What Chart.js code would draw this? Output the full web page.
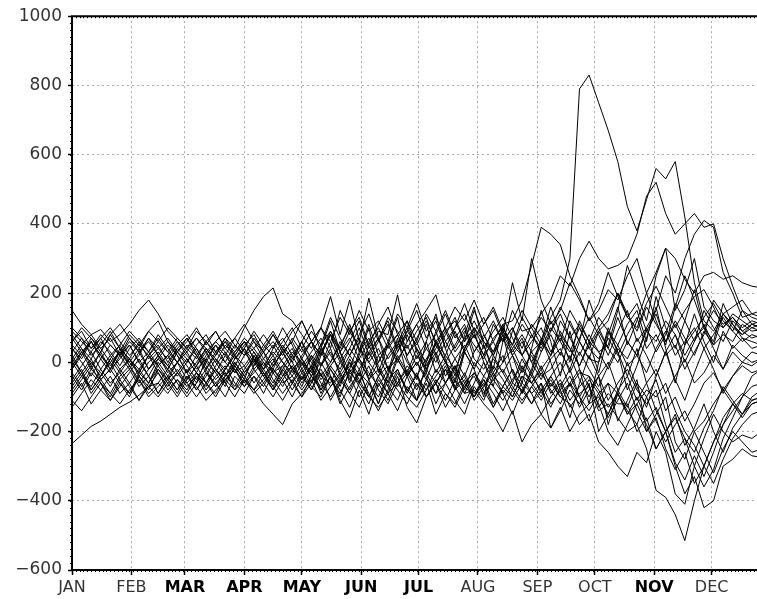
<!DOCTYPE html>
<html lang="en">
<head>
<meta charset="UTF-8">
<title>Daily anomaly ensemble</title>
<script src="https://cdn.jsdelivr.net/npm/chart.js@4"></script>
<style>
  * { margin: 0; padding: 0; box-sizing: border-box; }
  html, body { background: #fff; overflow: hidden; }
  .wrap { width: 757px; height: 599px; overflow: hidden; position: relative; }
  canvas { display: block; }
</style>
</head>
<body>
<div class="wrap"><canvas id="chart" width="771" height="599"></canvas></div>
<script>
// sample days (day of year, 0 = 1 Jan), one value every 5 days
const days = [0, 5, 10, 15, 20, 25, 30, 35, 40, 45, 50, 55,
  60, 65, 70, 75, 80, 85, 90, 95, 100, 105, 110, 115,
  120, 125, 130, 135, 140, 145, 150, 155, 160, 165, 170, 175,
  180, 185, 190, 195, 200, 205, 210, 215, 220, 225, 230, 235,
  240, 245, 250, 255, 260, 265, 270, 275, 280, 285, 290, 295,
  300, 305, 310, 315, 320, 325, 330, 335, 340, 345, 350, 355,
  360];

const monthDays = [0, 31, 59, 90, 120, 151, 181, 212, 243, 273, 304, 334];
const monthLabels = ['JAN', 'FEB', 'MAR', 'APR', 'MAY', 'JUN', 'JUL', 'AUG', 'SEP', 'OCT', 'NOV', 'DEC'];
const darkMonths = ['MAR', 'APR', 'MAY', 'JUN', 'JUL', 'NOV'];
const yTicks = [-600, -400, -200, 0, 200, 400, 600, 800, 1000];

// one array per member
const s01 = [40, 10, 60, 20, -10, 30, 0, 40, -20, 10, 50, 20,
  -30, 0, 40, 10, -20, 20, 60, 30, -10, 30, 0, -40,
  10, 60, 20, 90, 40, 110, 30, 70, 0, 50, 80, 20,
  60, -10, 40, 90, 30, 70, 120, 60, 30, 90, 40, 80,
  30, 60, 130, 180, 300, 790, 830, 750, 670, 580, 450, 380,
  470, 560, 530, 580, 420, 230, 120, 90, 140, 110, 80, 100,
  90];
const s02 = [-20, 30, 0, -40, 10, 50, 0, -30, 20, -10, -50, 0,
  30, -20, 10, 50, 0, -30, 20, 60, 10, -20, 40, 0,
  -50, 20, -10, 60, 0, 40, 100, 20, 70, -20, 30, 80,
  10, 60, -30, 20, 90, 30, 80, 20, 110, 60, 150, 90,
  100, 140, 180, 250, 220, 300, 350, 300, 270, 280, 300, 370,
  480, 520, 430, 370, 400, 430, 390, 400, 300, 220, 150, 110,
  120];
const s03 = [60, 90, 40, 70, 20, 50, 90, 60, 10, 40, 70, 30,
  0, 50, 80, 30, 60, 10, 40, 90, 50, 20, 60, 100,
  40, 90, 50, 130, 70, 20, 80, 140, 60, 110, 30, 90,
  150, 70, 120, 40, 100, 170, 90, 130, 60, 110, 120, 180,
  280, 390, 370, 340, 250, 190, 120, 150, 210, 180, 250, 300,
  200, 260, 330, 300, 240, 200, 250, 260, 240, 250, 230, 220,
  215];
const s04 = [-60, -20, -80, -40, 0, -50, -90, -30, -60, 0, -40, -80,
  -20, -60, 10, -30, -70, -10, -50, 20, -30, -80, -20, -60,
  0, -40, 30, -20, -70, 10, -40, 50, -10, -60, 20, -30,
  40, -20, 60, 0, -50, 30, -20, 50, -30, 20, -60, 10,
  -40, 30, 80, 20, 120, 60, 10, 90, 40, 130, 60, 20,
  100, 150, 250, 200, 300, 370, 410, 390, 260, 200, 130, 140,
  130];
const s05 = [100, 70, 40, 80, 50, 20, 60, 30, 70, 40, 10, 50,
  80, 40, 0, 50, 20, 70, 30, -10, 40, 80, 30, 60,
  120, 60, 100, 40, 150, 90, 130, 50, 110, 160, 80, 120,
  60, 140, 90, 150, 80, 40, 100, 60, 20, 80, 30, 70,
  0, 60, 20, 90, 40, -10, 60, 30, 50, 150, 280, 200,
  120, 250, 330, 150, 210, 300, 160, 120, 100, 130, 90, 110,
  100];
const s06 = [-40, -80, -30, -60, -100, -50, -20, -70, -40, -90, -50, -20,
  -60, -30, -80, -40, -10, -60, -90, -40, -70, -20, -50, -100,
  -40, -80, -30, -110, -60, -20, -70, -120, -50, -90, -30, -80,
  -110, -50, -90, -20, -70, -40, -100, -60, -130, -80, -110, -60,
  -90, -150, -100, -60, -130, -90, -70, -140, -120, -160, -200, -180,
  -250, -370, -390, -440, -515, -400, -300, -230, -160, -120, -150, -100,
  -80];
const s07 = [20, -30, 10, -50, -20, 30, -10, -60, -20, 20, -30, 0,
  -50, -10, 30, -20, -60, 0, -40, 10, -30, -70, -20, 20,
  -30, -80, -10, 40, -40, 0, -60, 30, -20, -70, 10, -40,
  0, -50, 20, -60, -10, -90, -30, -70, -10, -50, -100, -40,
  -60, -20, -90, -50, -110, -70, -40, -130, -90, -120, -120, -200,
  -160, -250, -200, -300, -380, -330, -420, -400, -300, -280, -250, -270,
  -275];
const s08 = [-100, -60, -120, -80, -40, -90, -60, -110, -70, -30, -80, -50,
  -90, -40, -70, -20, -60, -100, -50, -80, -30, -70, -110, -60,
  -20, -70, -100, -40, -80, -130, -60, -100, -40, -90, -140, -70,
  -110, -60, -150, -90, -130, -70, -100, -50, -90, -140, -80, -120,
  -70, -110, -60, -100, -120, -180, -150, -230, -260, -300, -330, -260,
  -290, -200, -260, -380, -410, -300, -220, -150, -200, -230, -210, -220,
  -200];
const s09 = [0, 40, -10, 30, -20, 10, 50, 0, -40, 10, -20, 30,
  -10, -50, 0, -30, 20, -20, -60, -10, 30, -30, -70, -20,
  10, -40, -80, -20, -60, 0, -50, -100, -40, -10, -70, -30,
  -80, -20, -60, -110, -50, -90, -80, -120, -150, -200, -140, -230,
  -180, -150, -190, -130, -200, -150, -120, -100, -150, -80, -40, -110,
  -60, -20, -90, -40, 10, -60, -30, 20, -20, 30, 0, -10,
  10];
const s10 = [-235, -210, -185, -170, -150, -130, -115, -95, -70, -60, -90, -50,
  -80, -30, -60, -100, -50, -20, -70, -40, -90, -30, -10, -60,
  -100, -40, -70, -10, -50, -90, -30, -60, -120, -50, -20, -80,
  -40, -100, -60, -20, -80, -50, -110, -70, -30, -90, -50, -10,
  -60, -100, -40, 0, -70, -30, -40, -80, -130, -90, -150, -120,
  -180, -250, -200, -290, -340, -270, -330, -260, -180, -140, -100, -70,
  -60];
const s11 = [150, 110, 80, 95, 60, 80, 110, 150, 180, 140, 90, 60,
  30, 70, 40, 0, 50, 20, 60, 10, -20, 40, 70, 20,
  60, 10, 50, 90, 30, 70, 10, 60, 100, 40, 80, 20,
  70, 120, 60, 100, 40, 90, 50, 10, 70, 100, 50, 20,
  80, 40, 100, 60, 10, 70, 130, 80, 20, 90, 150, 60,
  100, 30, 80, 170, 120, 60, 150, 100, 60, 120, 90, 70,
  80];
const s12 = [50, 20, 70, 40, 0, 30, 80, 50, 20, 60, 100, 70,
  40, 90, 60, 20, 70, 40, 100, 150, 190, 215, 140, 120,
  80, 40, 100, 60, 130, 80, 150, 90, 120, 60, 140, 100,
  170, 90, 130, 60, 100, 140, 70, 110, 160, 90, 50, 110,
  70, 130, 90, 160, 110, 60, 180, 100, 140, 200, 130, 170,
  90, 140, 60, 110, 50, 90, 130, 170, 120, 90, 150, 130,
  120];
const s13 = [-130, -90, -50, -80, -110, -60, -90, -40, -70, -100, -60, -30,
  -70, -40, -90, -60, -30, -80, -50, -80, -120, -150, -180, -120,
  -90, -50, -110, -70, -40, -90, -130, -60, -100, -40, -80, -120,
  -60, -100, -50, -90, -120, -60, -30, -80, -130, -70, -100, -40,
  -90, -60, -120, -80, -40, -100, -140, -90, -60, -170, -110, -50,
  -200, -160, -250, -310, -260, -350, -300, -230, -180, -120, -160, -120,
  -110];
const s14 = [30, 70, 20, 50, 90, 40, 10, 60, 30, 80, 40, 0,
  50, 20, 60, 90, 40, 10, 50, 80, 30, 60, 20, 70,
  30, 60, 100, 190, 80, 180, 60, 185, 70, 120, 40, 90,
  50, 110, 20, 80, 130, 60, 100, 40, 90, 130, 70, 20,
  60, 100, 30, 80, 40, -10, 50, 100, 40, 0, 60, 20,
  -30, 40, 90, 20, 60, 100, 40, 80, 130, 90, 60, 80,
  70];
const s15 = [-10, 30, 60, 20, -20, 40, 10, -30, 20, 50, 0, 40,
  10, -30, 20, 60, 30, -10, 40, 0, 50, 90, 40, 0,
  60, 110, 30, 80, 10, 60, 120, 40, 90, 80, 195, 60,
  110, 150, 195, 90, 120, 60, 150, 80, 30, 100, 50, 130,
  80, 30, 90, 140, 70, 20, 80, 30, -20, 40, 10, 70,
  20, -40, 30, 80, 0, 60, 110, 50, 140, 100, 80, 110,
  100];
const s16 = [-70, -30, -90, -50, -20, -60, -100, -40, -80, -20, -50, -90,
  -40, -80, -30, -60, -100, -40, -70, -20, -60, -100, -50, -10,
  -60, -20, -90, -40, -110, -160, -80, -150, -60, -110, -40, -130,
  -175, -100, -60, -130, -80, -30, -90, -50, -120, -70, -20, -90,
  -40, -80, -130, -70, -20, -100, -50, -90, -160, -110, -60, -140,
  -200, -150, -100, -230, -280, -200, -260, -320, -250, -200, -230, -260,
  -250];
const s17 = [80, 40, 10, 60, 30, -10, 40, 70, 30, -10, 20, 60,
  20, -10, 40, 0, -40, 10, 40, -20, 10, 50, 0, -30,
  20, 60, -10, 30, -30, 20, 70, 0, 40, -20, 10, 50,
  -10, 40, 0, 60, 10, -40, 30, 80, 20, -30, 20, 60,
  0, -50, 10, 40, -30, 30, -20, -70, -10, 50, -10, 20,
  90, 60, 120, 80, 20, 70, 100, 150, 110, 130, 100, 120,
  110];
const s18 = [-50, -10, 30, -20, -60, -30, 10, -40, 0, 30, -10, -40,
  0, 40, -10, -50, -20, 20, -10, -60, -20, 10, -40, 10,
  40, 0, -50, -10, 30, -30, 10, -50, 0, 60, 10, -40,
  20, -20, 30, -40, 10, 50, -10, 20, -40, 0, 40, -20,
  -60, -10, -70, -30, 20, -50, -100, -40, 0, -80, -130, -60,
  -100, -50, -140, -100, -170, -120, -60, -30, -80, -40, 0, 30,
  20];
const s19 = [90, 60, 30, 70, 100, 60, 20, 50, 90, 60, 30, 70,
  40, 10, 60, 30, 0, 50, 20, 70, 30, -10, 30, 60,
  10, -30, 40, 0, 60, 20, -20, 30, 70, 10, 50, 100,
  40, 0, 60, 20, -20, 40, 80, 20, 60, 0, 90, 150,
  100, 50, 120, 60, 150, 100, 40, 90, 120, 200, 140, 90,
  160, 110, 60, 120, 70, 20, 90, 50, 80, 60, 110, 90,
  95];
const s20 = [-30, -70, -20, -50, -90, -40, -10, -50, -90, -60, -20, -60,
  -100, -60, -20, -70, -40, -10, -50, -90, -60, -20, -60, -40,
  -80, -40, 0, -50, -90, -30, -60, -10, -80, -120, -60, -20,
  -70, -30, -90, -60, -10, -60, -100, -40, -70, -110, -60, -80,
  -30, -90, -50, -100, -60, -130, -80, -40, -110, -60, -20, -80,
  -120, -80, -180, -260, -220, -300, -360, -310, -220, -160, -100, -40,
  -20];
const s21 = [10, 50, 80, 40, 70, 20, 50, 0, 30, 70, 30, 0,
  40, 70, 30, 60, 90, 50, 20, 40, 80, 40, 100, 50,
  -10, 30, 70, 20, -20, 40, 0, -40, 20, 50, 0, 60,
  110, 40, 80, 140, 70, 110, 30, 70, 120, 60, 100, 40,
  110, 70, 20, 120, 70, 110, 60, 130, 90, 50, 110, 150,
  60, 190, 100, 40, 120, 210, 100, 60, 170, 110, 70, 40,
  50];
const s22 = [-80, -40, 0, -30, -70, -20, 10, -20, -60, -10, 20, -30,
  -60, -100, -60, -20, -50, -80, -30, 0, -40, -80, -40, -10,
  -50, -10, -60, -100, -50, -10, 10, -30, -70, -20, -60, -10,
  -40, -80, -40, 0, -30, -70, -40, -90, -50, -20, -70, -110,
  -70, -30, -80, -120, -60, -100, -170, -110, -60, -90, -150, -100,
  -170, -130, -200, -160, -220, -260, -190, -140, -70, -110, -150, -120,
  -110];
const s23 = [40, 0, -40, 10, 50, 20, -20, 30, 60, 20, -10, 40,
  70, 30, -20, 20, 60, 30, 70, 40, 0, -30, 10, 40,
  -20, 20, -40, 0, 50, 100, 40, 0, -40, 20, 60, 0,
  -40, 10, 50, 0, 50, 100, 10, -20, 30, 70, 20, -30,
  30, -20, 20, 70, 30, 100, 40, 10, 70, 20, 80, 130,
  40, 80, 20, 50, -20, 30, 80, 180, 140, 160, 180, 140,
  150];
const s24 = [-110, -140, -100, -60, -90, -120, -80, -50, -100, -70, -40, -80,
  -40, -70, -110, -80, -50, -20, -60, -30, 0, -50, -90, -50,
  -100, -60, -20, -70, -30, -80, -20, -100, -130, -90, -60, -100,
  -130, -80, -20, -60, -110, -150, -70, -110, -40, -70, -20, -70,
  -120, -80, -40, -90, -60, -20, -70, -120, -200, -240, -180, -120,
  -80, -100, -60, -140, -200, -240, -300, -350, -280, -220, -180, -150,
  -140];
const s25 = [60, 100, 70, 30, 80, 110, 70, 40, 90, 120, 60, 30,
  60, 100, 50, 90, 40, 70, 110, 60, 30, 80, 40, 90,
  120, 60, 20, 80, 30, 90, 40, 10, 60, 130, 90, 40,
  90, 130, 50, 100, 160, 120, 180, 110, 150, 80, 230, 120,
  300, 180, 110, 150, 230, 180, 120, 170, 260, 190, 130, 100,
  170, 220, 160, 100, 150, 190, 210, 160, 100, 140, 120, 100,
  110];
const s26 = [0, -40, -70, -20, 20, -20, -60, -20, 20, -30, -70, -30,
  10, -30, -60, -10, 30, -30, -10, 30, -20, 20, -30, -80,
  -30, 10, -40, -60, 0, -40, -100, -50, -20, -70, -110, -40,
  0, -40, -120, -60, -20, -80, 0, -40, 10, -30, -80, -20,
  20, -40, -20, 30, -20, 60, 10, 0, 90, 30, -40, 40,
  -60, -140, -200, -150, -240, -190, -120, -200, -260, -190, -150, -110,
  -100];
const s27 = [-20, 20, 60, 10, -30, 20, 70, 30, -20, 20, 60, 20,
  -30, 20, -20, 30, 70, 20, -30, 10, -40, 0, 50, 10,
  60, -20, 40, 120, 30, -60, 20, 100, -30, 50, 130, 10,
  -50, 60, 140, 40, -40, 80, 160, 50, -20, 110, 20, -60,
  40, 150, 60, -40, 90, -20, -120, 0, 100, 30, -80, -10,
  70, 160, 40, -60, 50, 140, 60, 0, 90, 40, 70, 60,
  50];
const s28 = [70, 30, -20, 30, 80, 40, -10, 20, 70, 20, -20, 30,
  70, 20, -30, -70, -20, 30, 60, 10, -40, -10, 30, -20,
  -70, -10, 50, -40, -100, -20, 60, -50, -120, -30, 70, -40,
  -110, 0, 90, 10, -80, 30, -20, -100, 20, 80, -30, -90,
  -20, 70, 0, -80, -160, -60, 20, -40, -180, -90, 0, -70,
  -130, -40, 30, -50, -110, -30, 40, -20, -90, -40, -10, -30,
  -20];
const s29 = [-90, -50, -10, -60, -110, -70, -30, 10, -40, -90, -40, 0,
  -30, -80, -40, 10, -30, -70, -20, 20, -20, -60, -10, 30,
  0, -60, 20, 80, 10, -50, 30, 110, 20, -40, 50, 120,
  30, -30, 60, 0, -60, 40, 90, 0, -70, 60, 100, 20,
  -30, 60, 160, 80, 0, 120, 60, -30, 80, 160, 50, 120,
  200, 120, 50, 160, 250, 180, 100, 40, -20, 50, 20, 0,
  10];
const s30 = [10, -30, -80, -40, 10, -30, -70, -110, -60, -20, -60, -100,
  -50, -10, -60, -90, -40, 0, -40, -80, -50, -10, 30, -20,
  -50, -10, -80, -40, -120, -70, -30, -90, -140, -80, -20, -90,
  -30, -100, -60, -10, -70, -120, -60, 0, -50, -90, -150, -80,
  -120, -60, -190, -140, -80, -120, -60, -200, -150, -90, -140, -180,
  -100, -170, -230, -180, -140, -200, -170, -120, -80, -120, -90, -110,
  -100];

const members = [s01, s02, s03, s04, s05, s06, s07, s08, s09, s10, s11, s12, s13, s14, s15,
  s16, s17, s18, s19, s20, s21, s22, s23, s24, s25, s26, s27, s28, s29, s30];

const FONT = "'DejaVu Sans', 'Liberation Sans', sans-serif";

// frame (left, bottom, top) plus small minor ticks along it
const framePlugin = {
  id: 'frame',
  afterDraw(chart) {
    const { ctx, chartArea: a, scales } = chart;
    ctx.save();
    ctx.strokeStyle = '#000';
    ctx.lineWidth = 2;
    ctx.beginPath();
    ctx.moveTo(a.right, a.top);
    ctx.lineTo(a.left, a.top);
    ctx.lineTo(a.left, a.bottom);
    ctx.lineTo(a.right, a.bottom);
    ctx.stroke();
    ctx.lineWidth = 1;
    ctx.beginPath();
    for (let d = 2; d < 365; d += 2) {
      const x = Math.round(scales.x.getPixelForValue(d)) + 0.5;
      ctx.moveTo(x, a.bottom);
      ctx.lineTo(x, a.bottom + 2);
      ctx.moveTo(x, a.top);
      ctx.lineTo(x, a.top + 2);
    }
    for (let v = -580; v < 1000; v += 20) {
      const y = Math.round(scales.y.getPixelForValue(v)) + 0.5;
      ctx.moveTo(a.left, y);
      ctx.lineTo(a.left - 2, y);
    }
    ctx.stroke();
    ctx.restore();
  }
};

const gridOpts = {
  color: '#a8a8a8',
  lineWidth: 1,
  tickColor: '#000',
  tickBorderDash: [],
  tickWidth: 1.5
};

new Chart(document.getElementById('chart'), {
  type: 'line',
  data: {
    datasets: members.map(vals => ({
      data: vals.map((v, i) => ({ x: days[i], y: v })),
      borderColor: '#000',
      borderWidth: 1,
      pointRadius: 0,
      tension: 0,
      fill: false
    }))
  },
  options: {
    responsive: false,
    animation: false,
    devicePixelRatio: 1,
    layout: { padding: { top: 14, right: 0, left: 0, bottom: 0 } },
    plugins: { legend: { display: false }, tooltip: { enabled: false } },
    scales: {
      x: {
        type: 'linear',
        min: 0,
        max: 365,
        afterFit: s => { s.height = 29; },
        afterBuildTicks: s => { s.ticks = monthDays.map(v => ({ value: v })); },
        border: { display: false, dash: [2, 3] },
        grid: Object.assign({ tickLength: 5 }, gridOpts),
        ticks: {
          autoSkip: false,
          maxRotation: 0,
          padding: 3,
          color: c => (darkMonths.includes(monthLabels[c.index]) ? '#000' : '#333'),
          font: c => ({
            family: FONT,
            size: 16,
            weight: darkMonths.includes(monthLabels[c.index]) ? '600' : 'normal'
          }),
          callback: (v, i) => monthLabels[i]
        }
      },
      y: {
        min: -600,
        max: 1000,
        afterFit: s => { s.width = 72; },
        afterBuildTicks: s => { s.ticks = yTicks.map(v => ({ value: v })); },
        border: { display: false, dash: [2, 3] },
        grid: Object.assign({ tickLength: 4 }, gridOpts),
        ticks: {
          padding: 6,
          color: '#333',
          font: { family: FONT, size: 17 },
          callback: v => (v < 0 ? '\u2212' + Math.abs(v) : String(v))
        }
      }
    }
  },
  plugins: [framePlugin]
});
</script>
</body>
</html>
